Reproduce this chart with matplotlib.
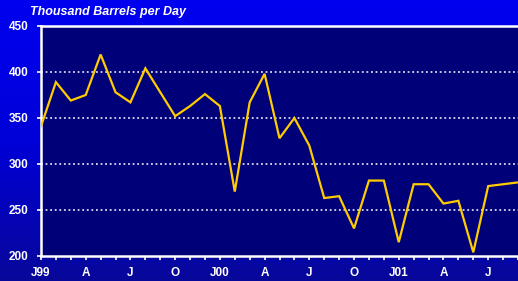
import numpy as np
import matplotlib
matplotlib.use("Agg")
import matplotlib.pyplot as plt
from matplotlib.colors import LinearSegmentedColormap

# monthly values, Jan 1999 .. Sep 2001 (thousand barrels per day)
values = [341, 389, 369, 375, 419, 378, 367, 404, 378, 352, 363, 376,
          363, 270, 367, 398, 328, 350, 320, 263, 265, 230, 282, 282,
          215, 278, 278, 257, 260, 204, 276, 278, 280]
tick_labels = {0: 'J99', 3: 'A', 6: 'J', 9: 'O', 12: 'J00', 15: 'A', 18: 'J',
               21: 'O', 24: 'J01', 27: 'A', 30: 'J'}
y_ticks = [200, 250, 300, 350, 400, 450]

plt.rcParams['font.family'] = ['Liberation Sans', 'DejaVu Sans']

fig = plt.figure(figsize=(5.18, 2.81), dpi=100)

# gradient backdrop behind everything
bg = fig.add_axes([0, 0, 1, 1], zorder=0)
grad_cmap = LinearSegmentedColormap.from_list('bg', ['#0000f0', '#0000d8', '#08089a'])
grad = np.linspace(0, 1, 256).reshape(-1, 1)
bg.imshow(grad, aspect='auto', cmap=grad_cmap, extent=[0, 1, 0, 1], origin='upper')
bg.axis('off')

ax = fig.add_axes([41 / 518, 25 / 281, 1 - 41 / 518, 230 / 281], zorder=1)
ax.set_facecolor('#000078')

x = np.arange(len(values))
ax.plot(x, values, color='#ffcc00', lw=1.6, solid_joinstyle='miter', zorder=3)

ax.set_xlim(0, len(values) - 1)
ax.set_ylim(200, 450)

ax.set_yticks(y_ticks)
ax.set_yticklabels([str(v) for v in y_ticks])
ax.set_xticks(x)
ax.set_xticklabels([tick_labels.get(i, '') for i in x])

for v in y_ticks[1:-1]:
    ax.axhline(v, color='white', lw=1.1, linestyle=(0, (1.2, 1.8)), zorder=2)

for side in ['left', 'bottom', 'top']:
    ax.spines[side].set_color('white')
    ax.spines[side].set_linewidth(1.8)
ax.spines['right'].set_visible(False)

ax.tick_params(axis='both', colors='white', width=1.2, length=3, direction='out',
               labelsize=8.5)
ax.tick_params(axis='y', pad=6)
ax.tick_params(axis='x', pad=5)
for lbl in ax.get_xticklabels() + ax.get_yticklabels():
    lbl.set_fontweight('bold')

fig.text(30 / 518, 1 - 12 / 281, 'Thousand Barrels per Day', color='white',
         fontsize=9, fontweight='bold', fontstyle='italic', va='center', ha='left')

fig.savefig('out.png', dpi=100)
